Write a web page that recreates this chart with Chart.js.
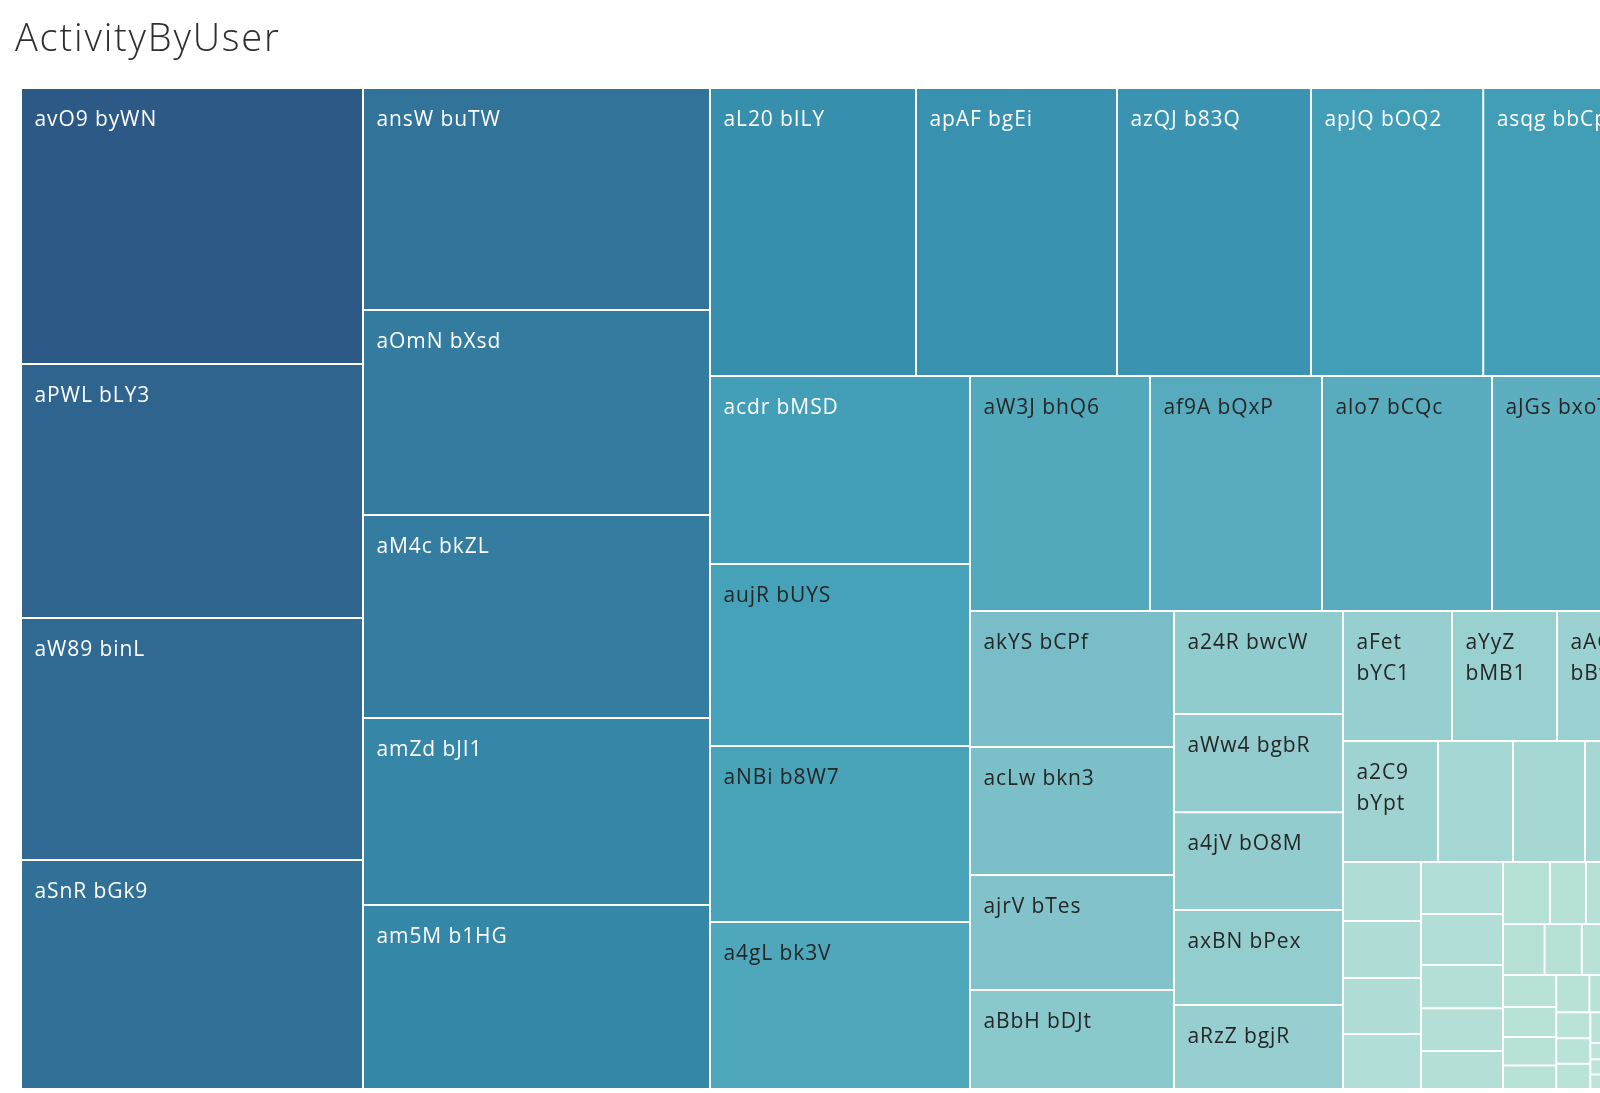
<!DOCTYPE html>
<html>
<head>
<meta charset="utf-8">
<script src="https://cdn.jsdelivr.net/npm/chart.js@4.4.1/dist/chart.umd.min.js"></script>
<style>
  html, body { margin: 0; padding: 0; background: #ffffff; width: 1600px; height: 1093px; overflow: hidden; }
  #wrap { position: absolute; left: 0; top: 0; width: 1700px; height: 1093px; }
  canvas { display: block; }
</style>
</head>
<body>
<div id="wrap"><canvas id="chart" width="1700" height="1093"></canvas></div>
<script>
// ---------------- data ----------------
const chartTitle = 'ActivityByUser';

const users = [
  'avO9 byWN', 'aPWL bLY3', 'aW89 binL', 'aSnR bGk9',
  'ansW buTW', 'aOmN bXsd', 'aM4c bkZL', 'amZd bJI1', 'am5M b1HG',
  'aL20 bILY', 'apAF bgEi', 'azQJ b83Q', 'apJQ bOQ2', 'asqg bbCp',
  'acdr bMSD', 'aujR bUYS', 'aNBi b8W7', 'a4gL bk3V',
  'aW3J bhQ6', 'af9A bQxP', 'alo7 bCQc', 'aJGs bxoT',
  'akYS bCPf', 'acLw bkn3', 'ajrV bTes', 'aBbH bDJt',
  'a24R bwcW', 'aWw4 bgbR', 'a4jV bO8M', 'axBN bPex', 'aRzZ bgjR',
  'aFet bYC1', 'aYyZ bMB1', 'aAGq bBt7',
  'a2C9 bYpt', 'aK7d bQw2', 'aZ3m bHr8', 'aT6p bNv4',
  'aE2x bLs9', 'aG8c bWd3', 'aR5n bJk1', 'aU9b bFm6',
  'aD4h bTz7', 'aX1q bCe5', 'aH7w bRn2', 'aB3t bYg8', 'aN6v bKp4',
  'aQ2s bDh9', 'aV8k bMx3', 'aC5r bPw7', 'aI1f bGz6',
  'aY7j bSa2', 'aF4u bVc8', 'aS9e bLq5', 'aJ2o bNd1',
  'aP6g bXr4', 'aL3y bZe9', 'aM8i bHb7', 'aT1a bQf3',
  'aW5z bEu6', 'aO2l bRk8', 'aK9h bIy2',
  'aZ4c bTm5', 'aU7n bWs1', 'aG1v bOj9',
  'aR8p bAd4', 'aE6b bCn7', 'aH2d bUx3', 'aX9t bFg6', 'aD5m bJh2',
  'aQ3w bKv8', 'aB7s bPz5', 'aN1x bSl9', 'aY4q bGt1', 'aC8f bMw6', 'aV2r bDo4'
];

const activity = [
  9439, 8687, 8276, 7832,
  7703, 7114, 7044, 6489, 6385,
  5933, 5789, 5587, 4960, 4947,
  4888, 4732, 4576, 4342,
  4230, 4042, 3995, 3831,
  2774, 2611, 2346, 2020,
  1741, 1660, 1652, 1606, 1420,
  1417, 1365, 1274,
  1150, 908, 871, 847,
  460, 445, 437, 429,
  426, 418, 354, 351, 312,
  291, 223, 215, 213,
  212, 190, 188, 185,
  170, 160, 152, 125,
  124, 123, 122,
  88, 87, 86,
  72, 70, 56, 46, 43, 41, 38, 35, 33, 32, 30
];

// Tableau "Blue-Teal" sequential palette, light -> dark
const blueTeal = [
  '#bce4d8', '#aedcd5', '#a1d5d2', '#95cecf', '#89c8cc', '#7ec1ca', '#72bac6',
  '#66b2c2', '#59acbe', '#4ba5ba', '#419eb6', '#3b96b2', '#358ead', '#3586a7',
  '#347ea1', '#32779b', '#316f96', '#2f6790', '#2d608a', '#2c5985'
];

// ---------------- helpers ----------------
const GOLDEN = (1 + Math.sqrt(5)) / 2;
const vMin = Math.min(...activity), vMax = Math.max(...activity);
const tOf = v => (v - vMin) / (vMax - vMin);

function hexToRgb(h) { const n = parseInt(h.slice(1), 16); return [(n >> 16) & 255, (n >> 8) & 255, n & 255]; }
function colorFor(v) {
  const t = tOf(v) * (blueTeal.length - 1);
  const i = Math.min(Math.floor(t), blueTeal.length - 2);
  const f = t - i;
  const a = hexToRgb(blueTeal[i]), b = hexToRgb(blueTeal[i + 1]);
  const c = a.map((x, k) => Math.round(x + (b[k] - x) * f));
  return `rgb(${c[0]},${c[1]},${c[2]})`;
}
const labelColorFor = v => (tOf(v) > 0.508 ? '#ffffff' : '#262626');

// squarified layout (golden-ratio target) in unit space [0,aspect] x [0,1]
function squarify(values, aspect, ratio) {
  const order = values.map((v, i) => i).sort((a, b) => values[b] - values[a]);
  const vals = order.map(i => values[i]);
  const out = new Array(values.length);
  let x0 = 0, y0 = 0, x1 = aspect, y1 = 1;
  let value = vals.reduce((s, v) => s + v, 0);
  const n = vals.length;
  let i0 = 0, i1 = 0;
  while (i0 < n) {
    const dx = x1 - x0, dy = y1 - y0;
    let sumValue = vals[i1++];
    let minValue = sumValue, maxValue = sumValue;
    const alpha = Math.max(dy / dx, dx / dy) / (value * ratio);
    let beta = sumValue * sumValue * alpha;
    let minRatio = Math.max(maxValue / beta, beta / minValue);
    for (; i1 < n; ++i1) {
      const nv = vals[i1];
      sumValue += nv;
      if (nv < minValue) minValue = nv;
      if (nv > maxValue) maxValue = nv;
      beta = sumValue * sumValue * alpha;
      const newRatio = Math.max(maxValue / beta, beta / minValue);
      if (newRatio > minRatio) { sumValue -= nv; break; }
      minRatio = newRatio;
    }
    if (dx < dy) {
      const h = dy * sumValue / value;
      let x = x0;
      for (let i = i0; i < i1; i++) {
        const w = dx * vals[i] / sumValue;
        out[order[i]] = { x0: x, y0: y0, x1: x + w, y1: y0 + h };
        x += w;
      }
      y0 += h;
    } else {
      const w = dx * sumValue / value;
      let y = y0;
      for (let i = i0; i < i1; i++) {
        const h = dy * vals[i] / sumValue;
        out[order[i]] = { x0: x0, y0: y, x1: x0 + w, y1: y + h };
        y += h;
      }
      x0 += w;
    }
    value -= sumValue;
    i0 = i1;
  }
  return out;
}

// ---------------- custom Chart.js controller ----------------
class TreemapRectsController extends Chart.DatasetController {
  parse(start, count) {
    const meta = this._cachedMeta;
    const data = this.getDataset().data;
    for (let i = start; i < start + count; i++) meta._parsed[i] = { x: 0, y: 0, v: +data[i] };
  }
  getMinMax() { return { min: 0, max: 1 }; }
  update(mode) {
    const meta = this._cachedMeta;
    this.updateElements(meta.data, 0, meta.data.length, mode);
  }
  updateElements(elements, start, count, mode) {
    const meta = this._cachedMeta;
    const xScale = meta.xScale, yScale = meta.yScale;
    const area = this.chart.chartArea;
    if (!area) return;
    const aspect = (area.right - area.left) / (area.bottom - area.top);
    const values = meta._parsed.map(p => p.v);
    const cells = squarify(values, aspect, GOLDEN);
    for (let i = start; i < start + count; i++) {
      const c = cells[i];
      const left = xScale.getPixelForValue(c.x0 / aspect);
      const right = xScale.getPixelForValue(c.x1 / aspect);
      const top = yScale.getPixelForValue(c.y0);
      const bottom = yScale.getPixelForValue(c.y1);
      this.updateElement(elements[i], i, {
        x: (left + right) / 2, y: top, base: bottom,
        width: right - left, height: bottom - top,
        horizontal: false, inflateAmount: 0, borderSkipped: {},
        options: this.resolveDataElementOptions(i, mode)
      }, mode);
    }
  }
  draw() {
    const ctx = this._ctx;
    for (const el of this._cachedMeta.data) el.draw(ctx);
  }
}
TreemapRectsController.id = 'treemapRects';
TreemapRectsController.defaults = { datasetElementType: false, dataElementType: 'bar' };
Chart.register(TreemapRectsController);

// ---------------- plugins ----------------
const LABEL_FONT = "21px 'Open Sans'";
const PAD_L = 13.5, PAD_R = 20, FIRST_BASE = 38, LINE_H = 31;

const cellLabels = {
  id: 'cellLabels',
  afterDatasetsDraw(chart) {
    const meta = chart.getDatasetMeta(0);
    const ctx = chart.ctx;
    const vals = chart.data.datasets[0].data;
    ctx.save();
    ctx.font = LABEL_FONT;
    ctx.letterSpacing = '0.9px';
    ctx.textAlign = 'left';
    ctx.textBaseline = 'alphabetic';
    meta.data.forEach((el, i) => {
      const p = el.getProps(['x', 'y', 'base', 'width'], true);
      if (!isFinite(p.x)) return;
      const left = p.x - p.width / 2, top = Math.min(p.y, p.base), h = Math.abs(p.base - p.y);
      const name = chart.data.labels[i];
      const maxW = p.width - PAD_L - PAD_R;
      let lines = [name];
      if (ctx.measureText(name).width > maxW) lines = name.split(' ');
      if (lines.some(l => ctx.measureText(l).width > maxW)) return;
      if (FIRST_BASE + (lines.length - 1) * LINE_H + 8 > h) return;
      ctx.fillStyle = labelColorFor(vals[i]);
      lines.forEach((l, k) => ctx.fillText(l, left + PAD_L, top + FIRST_BASE + k * LINE_H));
    });
    ctx.restore();
  }
};

const pageTitle = {
  id: 'pageTitle',
  afterDraw(chart) {
    const ctx = chart.ctx;
    ctx.save();
    ctx.font = "300 38px 'Open Sans'";
    ctx.letterSpacing = '1.8px';
    ctx.fillStyle = '#2e2e2e';
    ctx.textAlign = 'left';
    ctx.textBaseline = 'alphabetic';
    ctx.fillText(chartTitle, 15, 51);
    ctx.restore();
  }
};

// ---------------- chart ----------------
new Chart(document.getElementById('chart'), {
  type: 'treemapRects',
  data: {
    labels: users,
    datasets: [{
      label: 'Activity',
      data: activity,
      backgroundColor: activity.map(colorFor),
      borderColor: '#ffffff',
      borderWidth: 1
    }]
  },
  options: {
    responsive: false,
    devicePixelRatio: 1,
    animation: false,
    events: [],
    layout: { padding: { left: 21, top: 88, right: 45, bottom: 4 } },
    scales: {
      x: { type: 'linear', min: 0, max: 1, display: false },
      y: { type: 'linear', min: 0, max: 1, reverse: true, display: false }
    },
    plugins: { legend: { display: false }, tooltip: { enabled: false }, title: { display: false } }
  },
  plugins: [cellLabels, pageTitle]
});
</script>
</body>
</html>
